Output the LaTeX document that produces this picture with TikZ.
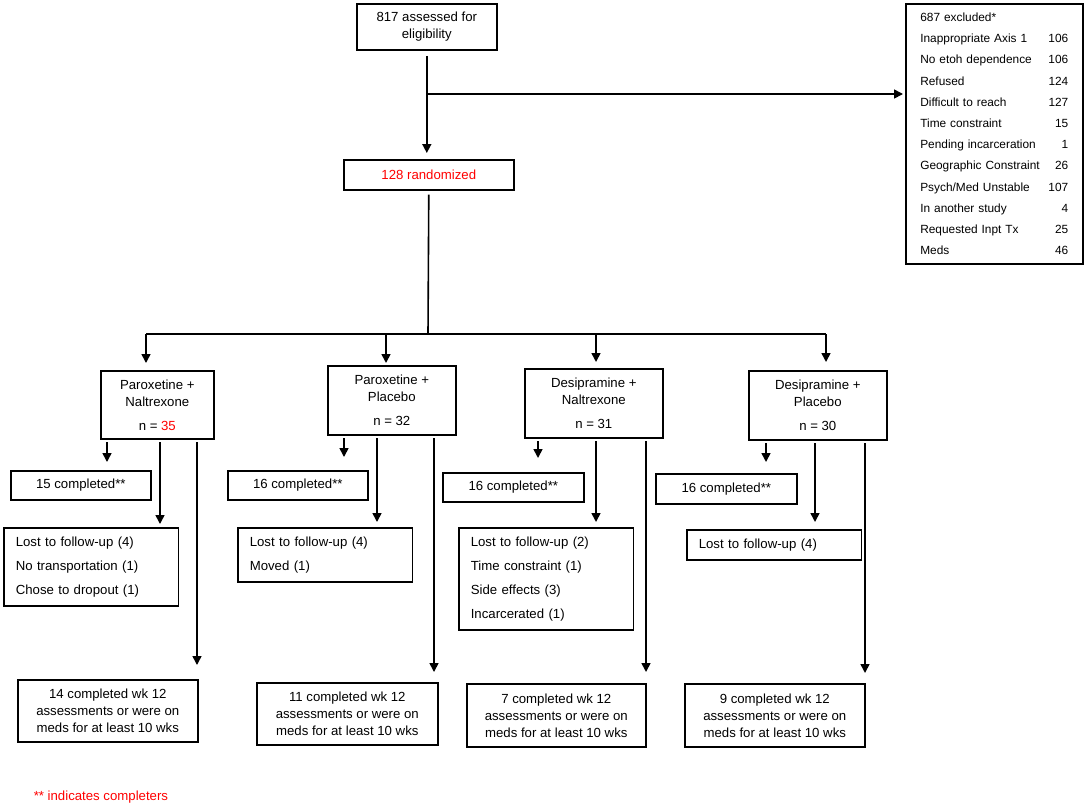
\documentclass[tikz,border=0pt]{standalone}
\usepackage{fontspec}
\setmainfont{Liberation Sans}
\usetikzlibrary{arrows.meta}

\tikzset{every picture/.style={line width=1.2pt}}
\tikzset{
  box/.style 2 args={draw, anchor=north west, inner sep=0pt, align=center,
    minimum width=#1*0.75pt, minimum height=#2*0.75pt,
    font=\fontsize{9.9}{12.75}\selectfont},
  listbox/.style={draw, anchor=north west, inner xsep=9pt, inner ysep=6.75pt,
    text width=113pt, align=left, font=\fontsize{9.9}{18}\selectfont},
  arr/.style={-{Triangle[length=6.75pt,width=6.75pt]}},
}

\begin{document}
\begin{tikzpicture}[x=0.75pt,y=0.75pt,yscale=-1,xscale=1]
    \useasboundingbox (0,0) rectangle (1084,807);

    %Shape: Rectangle [assessed]
    \node [box={140}{46}] (assess) at (356,3) {817 assessed for\\eligibility};
    %Shape: Rectangle [randomized]
    \node [box={170}{30}, text=red] (rand) at (343,159) {128 randomized};
    %Shape: Rectangle [excluded]
    \node [draw, anchor=north west, minimum width=177*0.75pt, minimum height=260*0.75pt,
      text width=111pt, align=left, font=\fontsize{8.9}{15.9}\selectfont] (excl) at (905,3)
      {687 excluded*\\
       Inappropriate Axis 1\hfill 106\\
       No etoh dependence\hfill 106\\
       Refused\hfill 124\\
       Difficult to reach\hfill 127\\
       Time constraint\hfill 15\\
       Pending incarceration\hfill 1\\
       Geographic Constraint\hfill 26\\
       Psych/Med Unstable\hfill 107\\
       In another study\hfill 4\\
       Requested Inpt Tx\hfill 25\\
       Meds\hfill 46};

    %Shape: Rectangle [arms]
    \node [box={113}{68}] (arm1) at (100,370) {Paroxetine +\\Naltrexone\\[5.25pt]n = \textcolor{red}{35}};
    \node [box={128}{69}] (arm2) at (327,365) {Paroxetine +\\Placebo\\[5.25pt]n = 32};
    \node [box={138}{69}] (arm3) at (524,368) {Desipramine +\\Naltrexone\\[5.25pt]n = 31};
    \node [box={138}{69}] (arm4) at (748,370) {Desipramine +\\Placebo\\[5.25pt]n = 30};

    %Shape: Rectangle [completed]
    \node [box={140}{29}] (comp1) at (10,470) {15 completed**};
    \node [box={140}{29}] (comp2) at (227,470) {16 completed**};
    \node [box={141}{29}] (comp3) at (442,472) {16 completed**};
    \node [box={141}{30}] (comp4) at (655,473) {16 completed**};

    %Shape: Rectangle [lost]
    \node [listbox] (lost1) at (3,527) {Lost to follow-up (4)\\No transportation (1)\\Chose to dropout (1)};
    \node [listbox] (lost2) at (237,527) {Lost to follow-up (4)\\Moved (1)};
    \node [listbox] (lost3) at (458,527) {Lost to follow-up (2)\\Time constraint (1)\\Side effects (3)\\Incarcerated (1)};
    \node [listbox] (lost4) at (686,529) {Lost to follow-up (4)};

    %Shape: Rectangle [week 12]
    \node [box={180}{62}] (fin1) at (17,679) {14 completed wk 12\\assessments or were on\\meds for at least 10 wks};
    \node [box={181}{62}] (fin2) at (256,682) {11 completed wk 12\\assessments or were on\\meds for at least 10 wks};
    \node [box={179}{63}] (fin3) at (466,683) {7 completed wk 12\\assessments or were on\\meds for at least 10 wks};
    \node [box={180}{63}] (fin4) at (684,683) {9 completed wk 12\\assessments or were on\\meds for at least 10 wks};

    % Text Node
    \node [anchor=west, text=red, inner sep=0pt, font=\fontsize{9.9}{12}\selectfont] (note) at (33,797) {** indicates completers};

    %Straight Lines [top]
    \coordinate (exclsplit) at (426,94);
    \coordinate (armsplit) at (428,334);
    \draw [arr, shorten <=4pt, shorten >=4.5pt] (assess.south) -- (assess.south |- rand.north);
    \draw [arr, shorten >=1.5pt] (exclsplit) -- (exclsplit -| excl.west);
    \draw [shorten <=3pt] (rand.south) -- (armsplit);

    %Straight Lines [arms]
    \foreach \i/\xt/\ga/\xa/\gc/\xb/\gl/\xc/\gf in
      {1/146/5.25/107/6/160/2.25/197/10.5,
       2/386/1.5/344/9.75/377/3.75/434/7.5,
       3/596/4.5/538/10.5/596/3.75/646/8.25,
       4/826/6/766/8.25/815/5.25/865/7.5}{
      \coordinate (t\i) at (\xt,334);
      \coordinate (s\i) at (\xa,0);
      \coordinate (l\i) at (\xb,0);
      \coordinate (f\i) at (\xc,0);
      \draw [arr, shorten >=\ga pt] (t\i) -- (t\i |- arm\i.north);
      \draw [arr, shorten <=2pt, shorten >=\gc pt] (s\i |- arm\i.south) -- (s\i |- comp\i.north);
      \draw [arr, shorten <=2pt, shorten >=\gl pt] (l\i |- arm\i.south) -- (l\i |- lost\i.north);
      \draw [arr, shorten <=2pt, shorten >=\gf pt] (f\i |- arm\i.south) -- (f\i |- fin\i.north);
    }
    \draw (t1) -- (t4);

\end{tikzpicture}
\end{document}
